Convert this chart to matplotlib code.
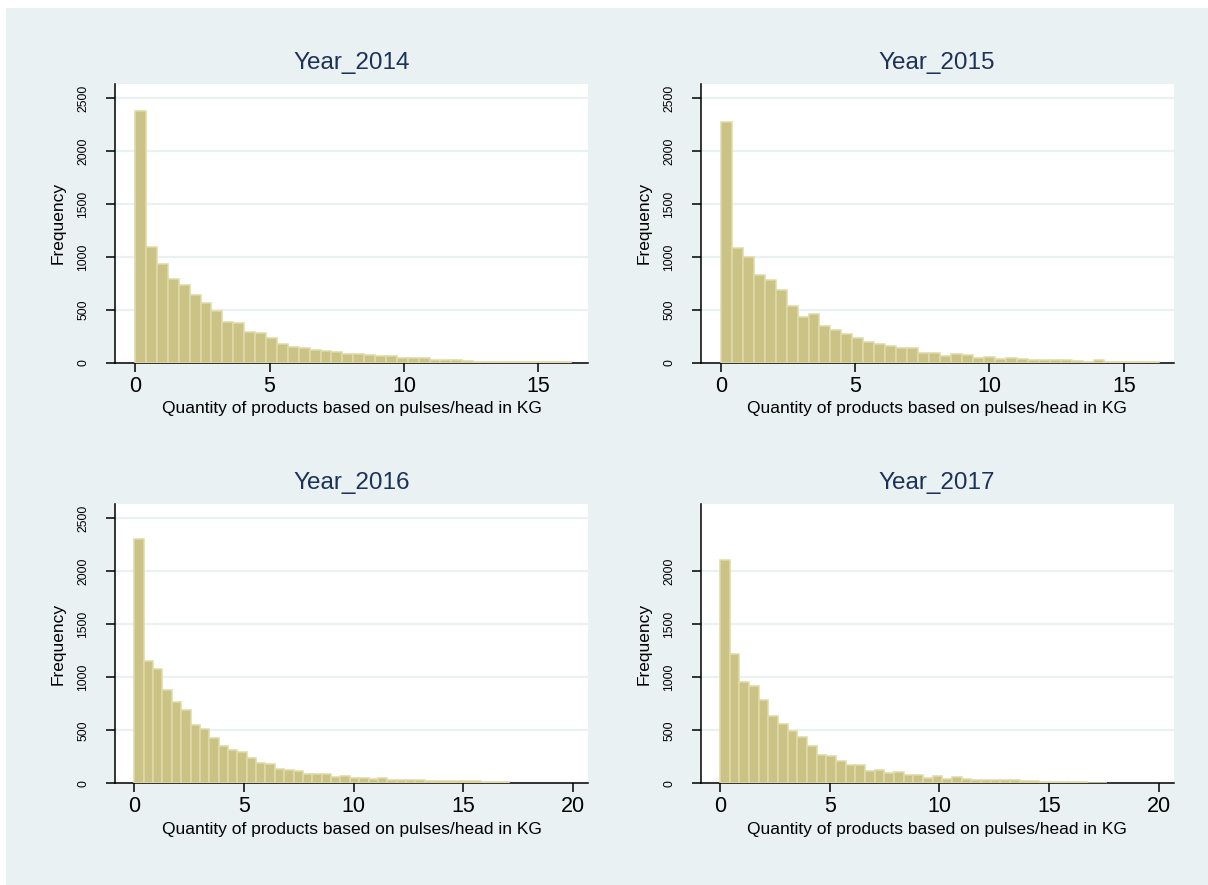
import numpy as np
import matplotlib
matplotlib.use("Agg")
import matplotlib.pyplot as plt
from matplotlib.patches import Rectangle

plt.rcParams['font.family'] = ['Liberation Sans', 'DejaVu Sans']

# ---------------- data ----------------
years = ["Year_2014", "Year_2015", "Year_2016", "Year_2017"]
# data range (max of variable); 40 equal-width bins starting at 0
x_max = [16.23, 16.32, 17.08, 17.64]

counts_2014 = [2381, 1096, 929, 788, 737, 636, 567, 485, 387, 372, 293, 277, 230, 173, 148,
               135, 117, 107, 98, 79, 79, 69, 60, 60, 41, 41, 41, 28, 28, 28, 13, 10, 8, 8,
               6, 6, 5, 5, 4, 4]
counts_2015 = [2277, 1087, 1002, 832, 778, 684, 539, 435, 457, 343, 306, 268, 230, 192, 173,
               161, 135, 135, 95, 95, 66, 79, 69, 44, 50, 31, 41, 31, 22, 28, 22, 22, 13, 9,
               22, 9, 9, 9, 6, 6]
counts_2016 = [2305, 1151, 1075, 880, 766, 690, 549, 511, 426, 350, 312, 300, 236, 189, 180,
               132, 123, 120, 85, 85, 85, 57, 66, 47, 47, 38, 47, 35, 28, 28, 28, 19, 19, 19,
               19, 19, 19, 13, 9, 9]
counts_2017 = [2109, 1220, 955, 917, 785, 634, 558, 492, 435, 350, 265, 255, 208, 170, 170,
               114, 123, 95, 104, 76, 76, 50, 69, 38, 57, 38, 28, 28, 28, 28, 28, 19, 19, 9,
               9, 9, 9, 9, 6, 6]
all_counts = [counts_2014, counts_2015, counts_2016, counts_2017]

x_ticks = [[0, 5, 10, 15], [0, 5, 10, 15], [0, 5, 10, 15, 20], [0, 5, 10, 15, 20]]
y_ticks = [[0, 500, 1000, 1500, 2000, 2500], [0, 500, 1000, 1500, 2000, 2500],
           [0, 500, 1000, 1500, 2000, 2500], [0, 500, 1000, 1500, 2000]]
x_limits = [(-0.75, 16.85), (-0.75, 16.85), (-0.88, 20.68), (-0.88, 20.68)]
y_limit = (0, 2635)

x_title = "Quantity of products based on pulses/head in KG"
y_title = "Frequency"

# ---------------- style ----------------
W, H = 1208, 885
bg = '#e9f1f3'
bar_fill = '#cbc385'
bar_edge = '#dfdaa8'
grid_col = '#e9f1f3'
title_col = '#1e3258'

fig = plt.figure(figsize=(W / 100, H / 100), dpi=100)
fig.patch.set_facecolor('white')
fig.patches.append(Rectangle((6 / W, 0), 1 - 6 / W, 1 - 8 / H, transform=fig.transFigure,
                             facecolor=bg, edgecolor='none', zorder=-10))

# panel boxes in pixels: (left, top, right, bottom)
boxes = [(115, 84, 588, 362.7), (700.7, 84, 1173.5, 362.7),
         (115, 504, 588, 783.3), (700.7, 504, 1173.5, 783.3)]

for i, (l, t, r, b) in enumerate(boxes):
    ax = fig.add_axes([l / W, 1 - b / H, (r - l) / W, (b - t) / H])
    ax.set_facecolor('white')
    counts = np.array(all_counts[i])
    edges = np.linspace(0, x_max[i], len(counts) + 1)
    ax.bar(edges[:-1], counts, width=np.diff(edges), align='edge',
           color=bar_fill, edgecolor=bar_edge, linewidth=1.1, zorder=3)
    ax.set_xlim(*x_limits[i])
    ax.set_ylim(*y_limit)
    ax.set_xticks(x_ticks[i])
    ax.set_yticks(y_ticks[i])
    ax.set_yticklabels([str(v) for v in y_ticks[i]], rotation=90, va='center',
                       fontsize=8.7)
    ax.tick_params(axis='x', labelsize=15.5, length=6.5, width=1.1, pad=3, direction='out')
    ax.tick_params(axis='y', length=6.5, width=1.1, pad=12, direction='out')
    ax.set_axisbelow(True)
    ax.yaxis.grid(True, color=grid_col, linewidth=1.6)
    ax.xaxis.grid(False)
    for s in ['top', 'right']:
        ax.spines[s].set_visible(False)
    for s in ['left', 'bottom']:
        ax.spines[s].set_linewidth(1.1)
        ax.spines[s].set_color('black')
    ph = b - t
    pw = r - l
    ax.set_xlabel(x_title, fontsize=12.5, va='center')
    ax.xaxis.set_label_coords(0.5, -46 / ph)
    ax.set_ylabel(y_title, fontsize=12.5, va='center', ha='center', rotation=90)
    ax.yaxis.set_label_coords(-57 / pw, 0.5)
    ax.text(0.5, 1 + 21 / ph, years[i], transform=ax.transAxes, ha='center',
            va='center', fontsize=17.5, color=title_col)

fig.savefig("out.png", dpi=100, facecolor=fig.get_facecolor())
